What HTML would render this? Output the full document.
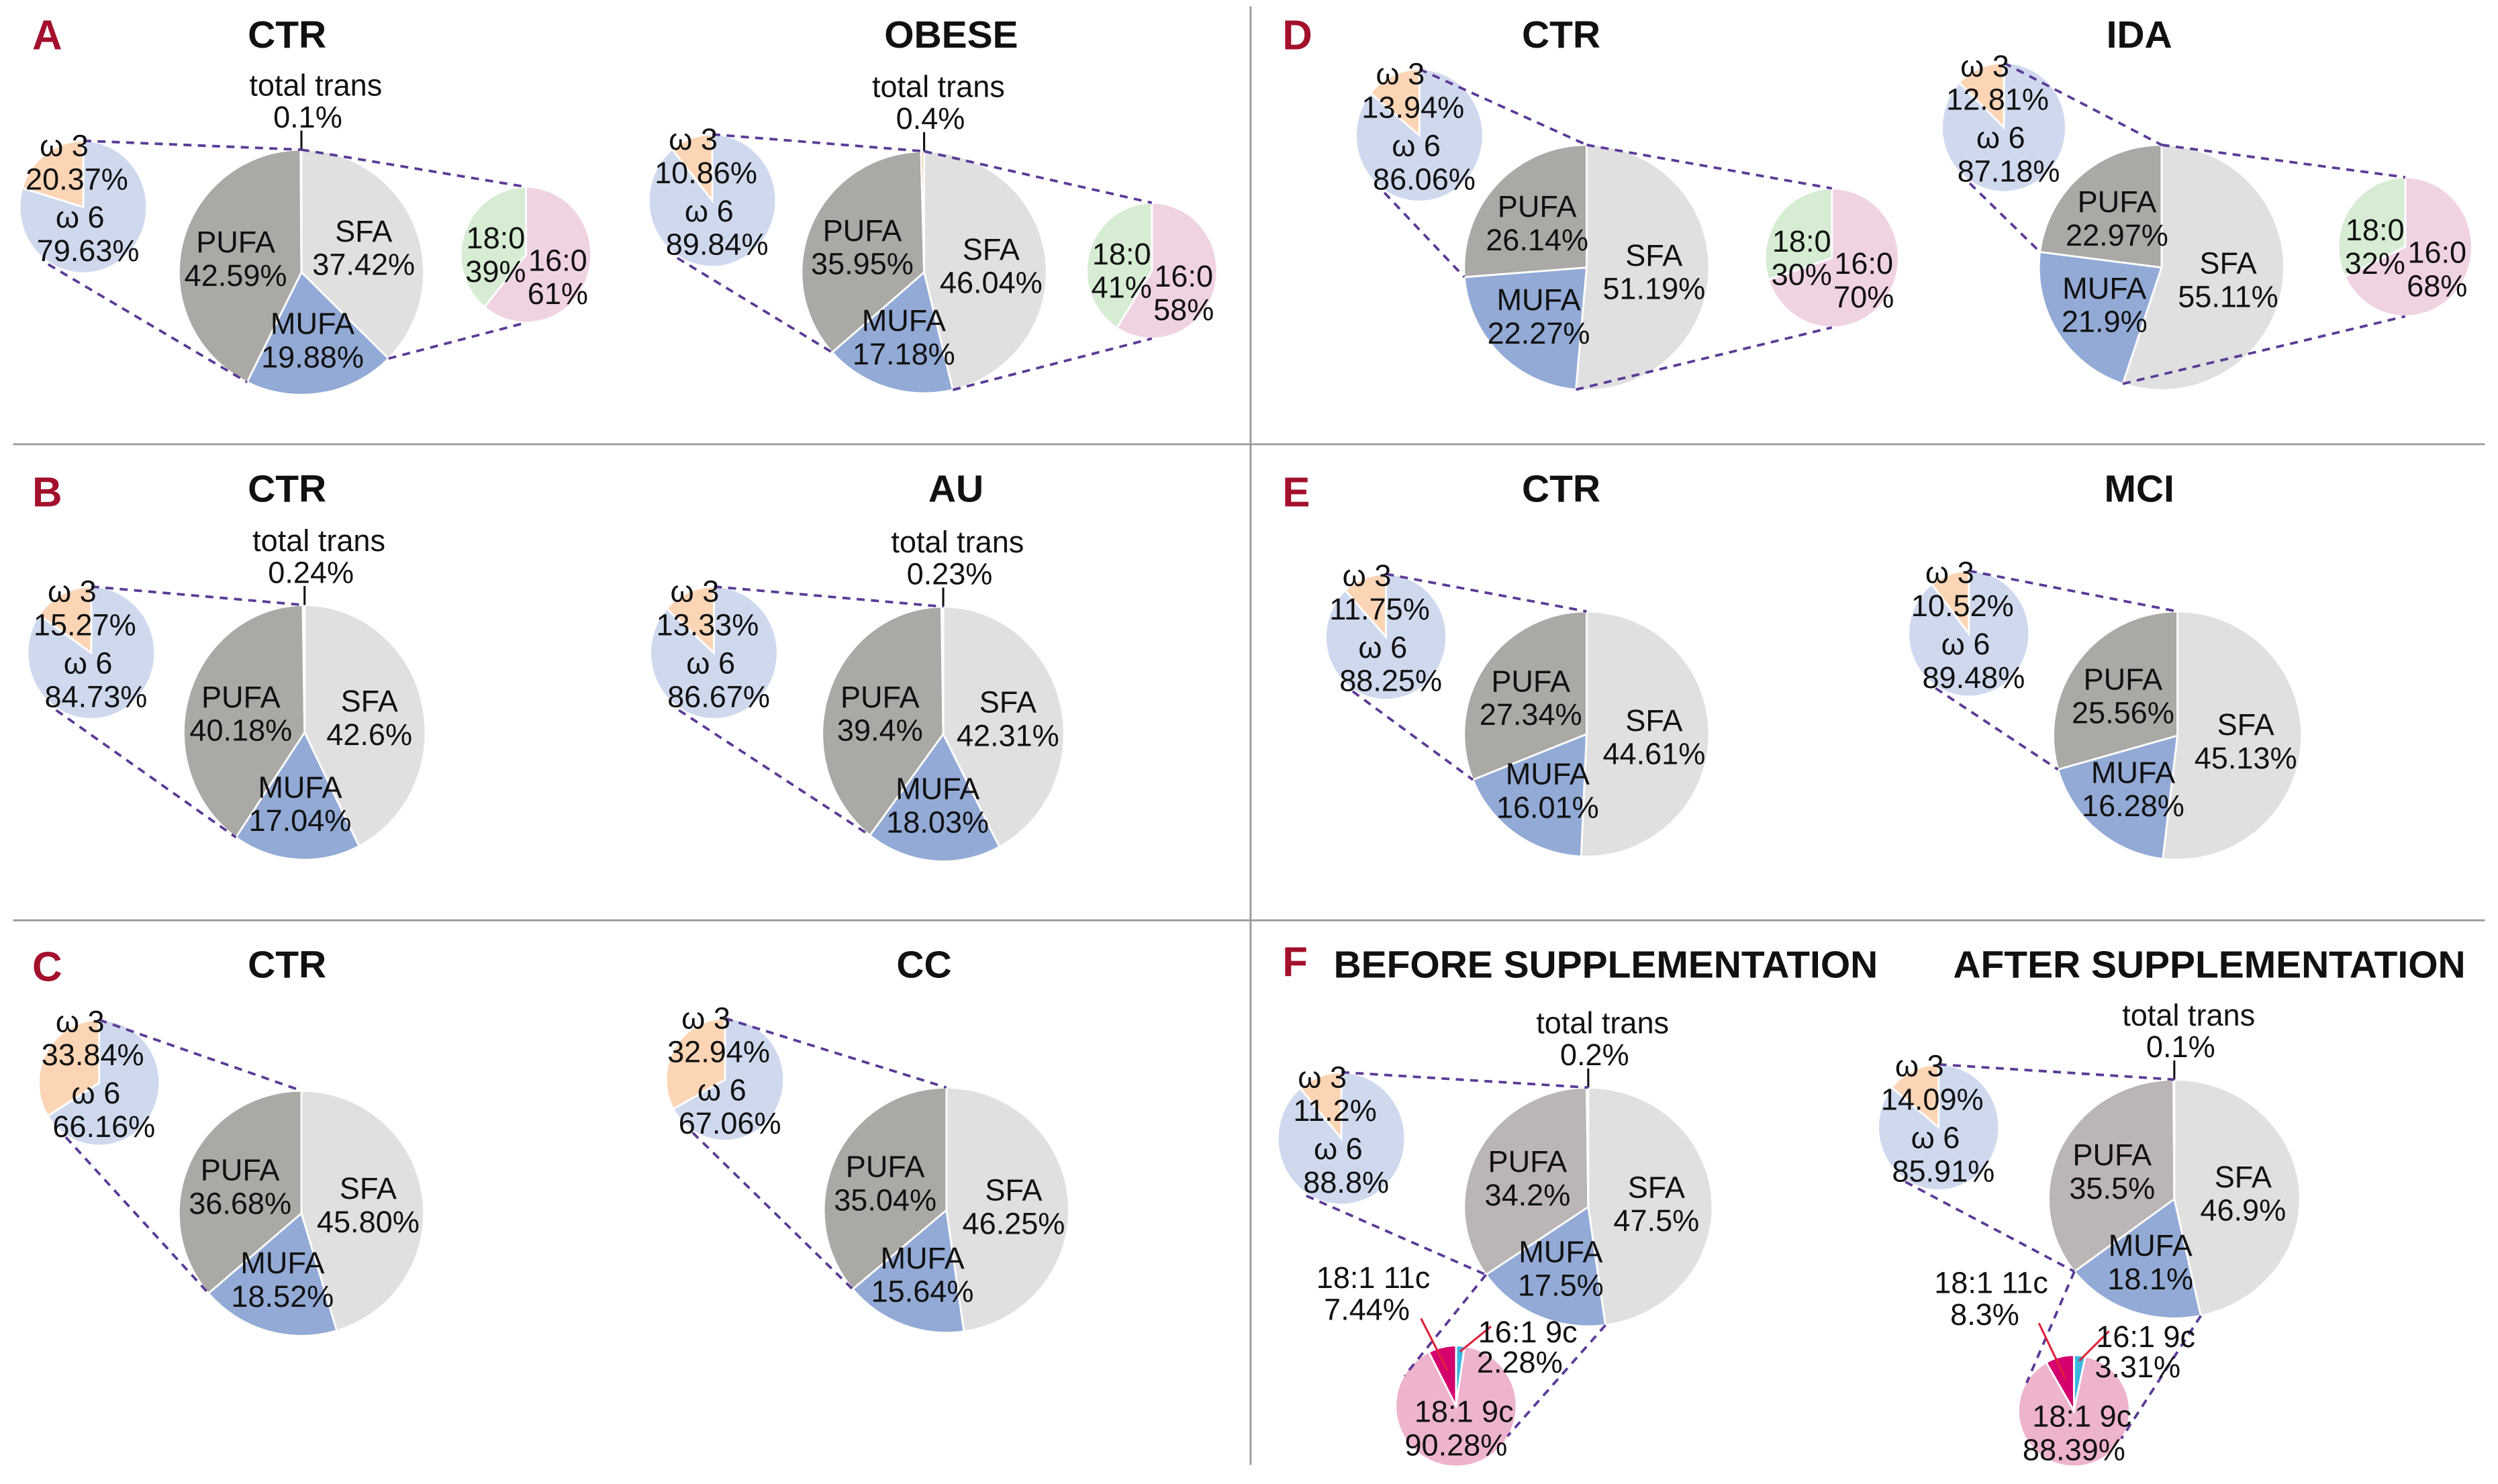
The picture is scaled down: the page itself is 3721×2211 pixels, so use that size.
<!DOCTYPE html>
<html><head><meta charset="utf-8"><style>
html,body{margin:0;padding:0;background:#fff;}
svg{display:block;}
text{font-family:"Liberation Sans",Arial,sans-serif;}
</style></head>
<body>
<svg id="fig" width="3721" height="2211" viewBox="0 0 1568 932" xmlns="http://www.w3.org/2000/svg">
<rect width="1568" height="932" fill="#fff"/>
<line x1="8" y1="279" x2="1560" y2="279" stroke="#999" stroke-width="1.2"/>
<line x1="8" y1="578" x2="1560" y2="578" stroke="#999" stroke-width="1.2"/>
<line x1="785" y1="4" x2="785" y2="920" stroke="#999" stroke-width="1.2"/>
<g font-weight="bold" font-size="26" fill="#a3102c">
<text x="20" y="31">A</text>
<text x="20" y="318">B</text>
<text x="20" y="616">C</text>
<text x="805" y="31">D</text>
<text x="805" y="318">E</text>
<text x="805" y="613">F</text>
</g>
<g id="charts"></g>
</svg>
<script>
// ---- data ----
const titles = ["CTR","OBESE","CTR","AU","CTR","CC","CTR","IDA","CTR","MCI","BEFORE SUPPLEMENTATION","AFTER SUPPLEMENTATION"];
const sfaVals  = [37.42,46.04,42.6,42.31,45.80,46.25,51.19,55.11,44.61,45.13,47.5,46.9];
const mufaVals = [19.88,17.18,17.04,18.03,18.52,15.64,22.27,21.9,16.01,16.28,17.5,18.1];
const pufaVals = [42.59,35.95,40.18,39.4,36.68,35.04,26.14,22.97,27.34,25.56,34.2,35.5];
const transVals = [0.1,0.4,0.24,0.23,0,0,0,0,0,0,0.2,0.1];
const sfaTxt  = ["37.42%","46.04%","42.6%","42.31%","45.80%","46.25%","51.19%","55.11%","44.61%","45.13%","47.5%","46.9%"];
const mufaTxt = ["19.88%","17.18%","17.04%","18.03%","18.52%","15.64%","22.27%","21.9%","16.01%","16.28%","17.5%","18.1%"];
const pufaTxt = ["42.59%","35.95%","40.18%","39.4%","36.68%","35.04%","26.14%","22.97%","27.34%","25.56%","34.2%","35.5%"];
const transTxt = ["0.1%","0.4%","0.24%","0.23%","","","","","","","0.2%","0.1%"];
const w3Vals = [20.37,10.86,15.27,13.33,33.84,32.94,13.94,12.81,11.75,10.52,11.2,14.09];
const w3Txt = ["20.37%","10.86%","15.27%","13.33%","33.84%","32.94%","13.94%","12.81%","11.75%","10.52%","11.2%","14.09%"];
const w6Txt = ["79.63%","89.84%","84.73%","86.67%","66.16%","67.06%","86.06%","87.18%","88.25%","89.48%","88.8%","85.91%"];
const c180Vals = [39,41,null,null,null,null,30,32,null,null,null,null];
const c180Txt = ["39%","41%","","","","","30%","32%","","","",""];
const c160Txt = ["61%","58%","","","","","70%","68%","","","",""];
const m161Vals = [2.28,3.31];
const m1819Vals = [90.28,88.39];
const m18111Vals = [7.44,8.3];
const m161Txt = ["2.28%","3.31%"];
const m1819Txt = ["90.28%","88.39%"];
const m18111Txt = ["7.44%","8.3%"];

// ---- layout (not data) ----
const L = [
 {tx:180,ty:30,cx:189,cy:171,rx:77,ry:77,wx:52,wy:130,wr:40,sx:330,sy:160,sr:41},
 {tx:597,ty:30,cx:580,cy:171,rx:77,ry:76,wx:447,wy:126,wr:40,sx:723,sy:170,sr:41},
 {tx:180,ty:315,cx:191,cy:460,rx:76,ry:80,wx:57,wy:410,wr:40},
 {tx:600,ty:315,cx:592,cy:461,rx:76,ry:80,wx:448,wy:410,wr:40},
 {tx:180,ty:614,cx:189,cy:762,rx:77,ry:77,wx:62,wy:680,wr:38},
 {tx:580,ty:614,cx:594,cy:760,rx:77,ry:77,wx:455,wy:678,wr:37},
 {tx:980,ty:30,cx:996,cy:168,rx:77,ry:77,wx:891,wy:85,wr:40,sx:1150,sy:162,sr:42},
 {tx:1343,ty:30,cx:1357,cy:168,rx:77,ry:77,wx:1258,wy:80,wr:39,sx:1510,sy:155,sr:42},
 {tx:980,ty:315,cx:996,cy:461,rx:77,ry:77,wx:870,wy:400,wr:38},
 {tx:1343,ty:315,cx:1367,cy:462,rx:78,ry:78,wx:1236,wy:398,wr:38},
 {tx:1008,ty:614,cx:997,cy:758,rx:78,ry:75,wx:842,wy:715,wr:40,mx:914,my:883,mr:38},
 {tx:1387,ty:614,cx:1365,cy:753,rx:79,ry:75,wx:1217,wy:708,wr:38,mx:1302,my:886,mr:35}
];
const FS=19;
const NS="http://www.w3.org/2000/svg";
const root=document.getElementById('charts');
function el(tag,attrs,parent){const e=document.createElementNS(NS,tag);for(const k in attrs)e.setAttribute(k,attrs[k]);(parent||root).appendChild(e);return e;}
function pt(cx,cy,rx,ry,frac){const a=frac*2*Math.PI;return [cx+rx*Math.sin(a),cy-ry*Math.cos(a)];}
function arc(g,cx,cy,rx,ry,f0,f1,fill,name){
  const p0=pt(cx,cy,rx,ry,f0),p1=pt(cx,cy,rx,ry,f1);const large=(f1-f0)>0.5?1:0;
  const p=el('path',{d:`M${cx},${cy}L${p0[0]},${p0[1]}A${rx},${ry} 0 ${large} 1 ${p1[0]},${p1[1]}Z`,fill:fill,stroke:'#fff','stroke-width':1.2},g);
  
  
  return p;
}
function txt(g,x,y,s,name,size,anchor,weight){
  const t=el('text',{x:x,y:y,'font-size':size||FS,'text-anchor':anchor||'middle',fill:'#111'},g);
  if(weight)t.setAttribute('font-weight',weight);
  t.textContent=s;
  
  
  return t;
}
function dash(g,x1,y1,x2,y2){
  const l=el('line',{x1:x1,y1:y1,x2:x2,y2:y2,stroke:'#5b3a96','stroke-width':1.6,'stroke-dasharray':'5,4'},g);
  
  
}
for(let i=0;i<titles.length;i++){
  const o=L[i];
  const g=el('g',{});
  
  
  txt(g,o.tx,o.ty,titles[i],'chart-title',24,'middle','bold');
  const tot=sfaVals[i]+mufaVals[i]+pufaVals[i]+transVals[i];
  const f1=sfaVals[i]/tot,f2=f1+mufaVals[i]/tot,f3=f2+pufaVals[i]/tot;
  const pufaCol=i>=10?'#bcb5b5':'#aba9a5';
  arc(g,o.cx,o.cy,o.rx,o.ry,0,f1,'#e0e0e0','slice-sfa');
  arc(g,o.cx,o.cy,o.rx,o.ry,f1,f2,'#93aad6','slice-mufa');
  arc(g,o.cx,o.cy,o.rx,o.ry,f2,f3,pufaCol,'slice-pufa');
  if(transVals[i]>0){
    arc(g,o.cx,o.cy,o.rx,o.ry,f3,1,'#f5c89a','slice-trans');
    const top=o.cy-o.ry;
    const l=el('line',{x1:o.cx,y1:top-12,x2:o.cx,y2:top,stroke:'#111','stroke-width':1.3},g);
    
    
    txt(g,o.cx+9,top-34,'total trans','trans-label');
    txt(g,o.cx+4,top-14,transTxt[i],'trans-value');
  }
  const lab=(fa,fb,name,val,key)=>{const m=(fa+fb)/2;const p=pt(o.cx,o.cy,o.rx*0.55,o.ry*0.55,m);
    txt(g,p[0],p[1]-3,name,key+'-label');txt(g,p[0],p[1]+18,val,key+'-value');};
  lab(0,f1,'SFA',sfaTxt[i],'sfa');
  lab(f1,f2,'MUFA',mufaTxt[i],'mufa');
  lab(f2,f3,'PUFA',pufaTxt[i],'pufa');
  const wf=1-w3Vals[i]/100;
  arc(g,o.wx,o.wy,o.wr,o.wr*1.04,0,wf,'#cfd9ee','slice-omega6');
  arc(g,o.wx,o.wy,o.wr,o.wr*1.04,wf,1,'#fcd5b5','slice-omega3');
  dash(g,o.wx,o.wy-o.wr*1.04,o.cx,o.cy-o.ry);
  const bp=pt(o.cx,o.cy,o.rx,o.ry,f2);
  dash(g,o.wx-o.wr*0.55,o.wy+o.wr*0.9,bp[0],bp[1]);
  txt(g,o.wx-12,o.wy-32,'ω 3','omega3-label');
  txt(g,o.wx-4,o.wy-11,w3Txt[i],'omega3-value');
  txt(g,o.wx-2,o.wy+13,'ω 6','omega6-label');
  txt(g,o.wx+3,o.wy+34,w6Txt[i],'omega6-value');
  if(c180Vals[i]!=null){
    const sf=1-c180Vals[i]/100, sry=o.sr*1.04;
    arc(g,o.sx,o.sy,o.sr,sry,0,sf,'#f0d3e3','slice-16-0');
    arc(g,o.sx,o.sy,o.sr,sry,sf,1,'#d6ecd3','slice-18-0');
    dash(g,o.cx,o.cy-o.ry,o.sx,o.sy-sry);
    const sp=pt(o.cx,o.cy,o.rx,o.ry,f1);
    dash(g,sp[0],sp[1],o.sx,o.sy+sry);
    txt(g,o.sx-19,o.sy-4,'18:0','c18-0-label');
    txt(g,o.sx-19,o.sy+17,c180Txt[i],'c18-0-value');
    txt(g,o.sx+20,o.sy+10,'16:0','c16-0-label');
    txt(g,o.sx+20,o.sy+31,c160Txt[i],'c16-0-value');
  }
  if(o.mx){
    const k=i-10, mt=m161Vals[k]+m1819Vals[k]+m18111Vals[k];
    const a1=m161Vals[k]/mt,a2=a1+m1819Vals[k]/mt;
    arc(g,o.mx,o.my,o.mr,o.mr,0,a1,'#3bb6e0','slice-16-1-9c');
    arc(g,o.mx,o.my,o.mr,o.mr,a1,a2,'#eeb3cd','slice-18-1-9c');
    arc(g,o.mx,o.my,o.mr,o.mr,a2,1,'#d4006e','slice-18-1-11c');
    const q1=pt(o.cx,o.cy,o.rx,o.ry,f2),q2=pt(o.cx,o.cy,o.rx,o.ry,f1);
    dash(g,q1[0],q1[1],o.mx-o.mr*0.85,o.my-o.mr*0.5);
    dash(g,q2[0],q2[1],o.mx+o.mr*0.85,o.my+o.mr*0.5);
    const r1=pt(o.mx,o.my,o.mr*0.6,o.mr*0.6,(a2+1)/2), r2=pt(o.mx,o.my,o.mr*0.9,o.mr*0.9,a1/2);
    let ln=el('line',{x1:o.mx-22,y1:o.my-55,x2:r1[0],y2:r1[1],stroke:'#e0203a','stroke-width':1.3},g);
    
    
    ln=el('line',{x1:o.mx+22,y1:o.my-50,x2:r2[0],y2:r2[1],stroke:'#e0203a','stroke-width':1.3},g);
    
    
    txt(g,o.mx-52,o.my-74,'18:1 11c','c18-1-11c-label');
    txt(g,o.mx-56,o.my-54,m18111Txt[k],'c18-1-11c-value');
    txt(g,o.mx+45,o.my-40,'16:1 9c','c16-1-9c-label');
    txt(g,o.mx+40,o.my-21,m161Txt[k],'c16-1-9c-value');
    txt(g,o.mx+5,o.my+10,'18:1 9c','c18-1-9c-label');
    txt(g,o.mx,o.my+31,m1819Txt[k],'c18-1-9c-value');
  }
}
</script>
</body></html>
